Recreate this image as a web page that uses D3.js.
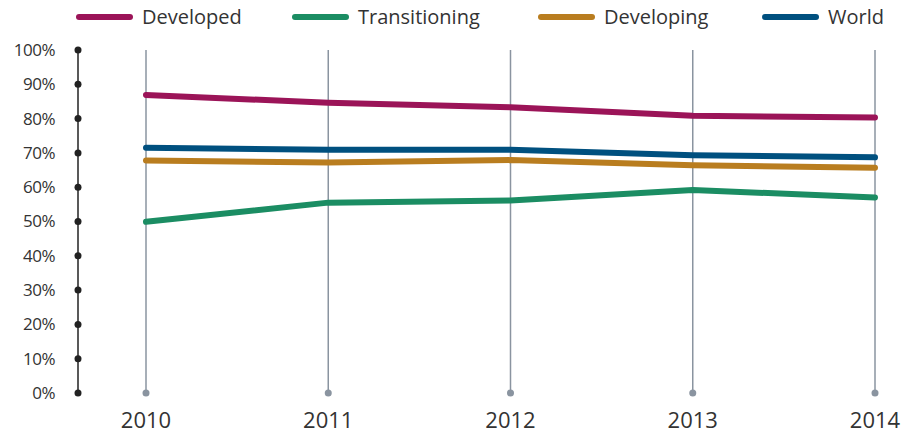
<!DOCTYPE html>
<html>
<head>
<meta charset="utf-8">
<script src="https://cdn.jsdelivr.net/npm/d3@7"></script>
<style>
  body { margin: 0; background: #fff; }
  text { font-family: "Open Sans", "Noto Sans", sans-serif; fill: #333; }
</style>
</head>
<body>
<div id="chart"></div>
<script>
var w = 911;
var h = 434;

// data
const years = [2010, 2011, 2012, 2013, 2014];
const seriesNames = ["Developed", "Transitioning", "Developing", "World"];
const developed = [86.9, 84.6, 83.3, 80.8, 80.3];
const transitioning = [49.9, 55.5, 56.1, 59.2, 57.0];
const developing = [67.8, 67.2, 67.9, 66.4, 65.7];
const world = [71.5, 70.9, 70.9, 69.3, 68.7];
const yTicks = [0, 10, 20, 30, 40, 50, 60, 70, 80, 90, 100];
const colours = ["#9b1458", "#1b8d63", "#b97d1f", "#00507f"];

const seriesValues = [developed, transitioning, developing, world];

const svg = d3.select("#chart").append("svg").attr("width", w).attr("height", h);

const x = d3.scalePoint()
    .domain(years)
    .range([146, 875]);

const y = d3.scaleLinear()
    .domain([0, 100])
    .range([393, 50]);

// vertical gridlines with dots at bottom
const grid = svg.append("g").classed("grid", true);
grid.selectAll("line")
    .data(years)
    .enter()
    .append("line")
    .attr("x1", d => x(d))
    .attr("x2", d => x(d))
    .attr("y1", y(100))
    .attr("y2", y(0))
    .attr("stroke", "#8a94a0")
    .attr("stroke-width", 1.5);
grid.selectAll("circle")
    .data(years)
    .enter()
    .append("circle")
    .attr("cx", d => x(d))
    .attr("cy", y(0))
    .attr("r", 3.5)
    .attr("fill", "#8a94a0");

// x labels
svg.append("g").selectAll("text")
    .data(years)
    .enter()
    .append("text")
    .attr("x", d => x(d))
    .attr("y", 428)
    .attr("text-anchor", "middle")
    .style("font-size", "22px")
    .text(d => d);

// y axis: line with dots
const yAxis = svg.append("g").classed("y-axis", true);
yAxis.append("line")
    .attr("x1", 78).attr("x2", 78)
    .attr("y1", y(100)).attr("y2", y(0))
    .attr("stroke", "#222")
    .attr("stroke-width", 1.5);
yAxis.selectAll("circle")
    .data(yTicks)
    .enter()
    .append("circle")
    .attr("cx", 78)
    .attr("cy", d => y(d))
    .attr("r", 3.5)
    .attr("fill", "#222");
yAxis.selectAll("text")
    .data(yTicks)
    .enter()
    .append("text")
    .attr("x", 55)
    .attr("y", d => y(d))
    .attr("dy", "0.35em")
    .attr("text-anchor", "end")
    .style("font-size", "17px")
    .style("letter-spacing", "-0.5px")
    .text(d => d + "%");

// lines
const line = d3.line()
    .x((d, i) => x(years[i]))
    .y(d => y(d));

svg.append("g").selectAll("path")
    .data(seriesValues)
    .enter()
    .append("path")
    .attr("d", d => line(d))
    .attr("fill", "none")
    .attr("stroke", (d, i) => colours[i])
    .attr("stroke-width", 6)
    .attr("stroke-linecap", "round")
    .attr("stroke-linejoin", "round");

// legend
const legendX = [76, 292, 538, 762];
const legend = svg.append("g").selectAll("g")
    .data(seriesNames)
    .enter()
    .append("g")
    .attr("transform", (d, i) => `translate(${legendX[i]},17)`);
legend.append("line")
    .attr("x1", 3).attr("x2", 54)
    .attr("y1", 0).attr("y2", 0)
    .attr("stroke", (d, i) => colours[i])
    .attr("stroke-width", 6)
    .attr("stroke-linecap", "round");
legend.append("text")
    .attr("x", 66)
    .attr("y", 0)
    .attr("dy", "0.35em")
    .style("font-size", "20px")
    .text(d => d);
</script>
</body>
</html>
